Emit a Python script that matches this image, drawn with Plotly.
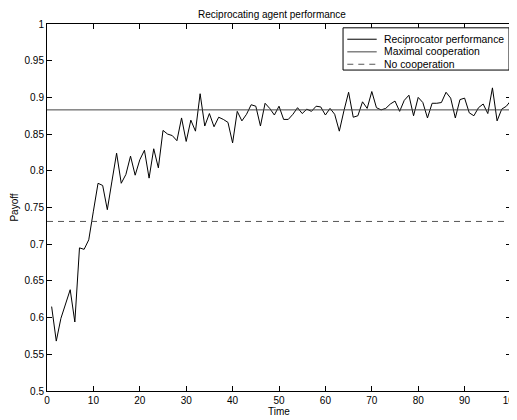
import plotly.graph_objects as go

time = list(range(1, 101))
reciprocator = [
    0.615, 0.568, 0.599, 0.618, 0.638, 0.594, 0.695, 0.693, 0.706, 0.745,
    0.783, 0.780, 0.747, 0.786, 0.824, 0.783, 0.795, 0.820, 0.794, 0.815,
    0.828, 0.790, 0.830, 0.804, 0.855, 0.850, 0.848, 0.841, 0.872, 0.840,
    0.869, 0.854, 0.905, 0.861, 0.878, 0.860, 0.873, 0.870, 0.866, 0.838,
    0.881, 0.868, 0.877, 0.890, 0.888, 0.861, 0.892, 0.885, 0.876, 0.888,
    0.870, 0.870, 0.877, 0.886, 0.878, 0.884, 0.881, 0.888, 0.887, 0.876,
    0.885, 0.877, 0.854, 0.882, 0.907, 0.873, 0.875, 0.894, 0.885, 0.908,
    0.886, 0.883, 0.885, 0.891, 0.895, 0.881, 0.896, 0.903, 0.875, 0.900,
    0.893, 0.872, 0.892, 0.892, 0.893, 0.907, 0.899, 0.872, 0.897, 0.899,
    0.879, 0.875, 0.886, 0.891, 0.878, 0.913, 0.868, 0.884, 0.888, 0.896,
]
maximal_cooperation = 0.883
no_cooperation = 0.731
hline_x = [0, 100]

series_names = ["Reciprocator performance", "Maximal cooperation", "No cooperation"]

x_ticks = list(range(0, 101, 10))
y_ticks = [0.5, 0.55, 0.6, 0.65, 0.7, 0.75, 0.8, 0.85, 0.9, 0.95, 1.0]
y_tick_labels = ["0.5", "0.55", "0.6", "0.65", "0.7", "0.75", "0.8", "0.85", "0.9", "0.95", "1"]

FONT = "Liberation Sans, Arial, Helvetica, sans-serif"

styles = [
    dict(color="black", width=1),
    dict(color="#444444", width=1),
    dict(color="#555555", width=1, dash="6px,5px"),
]

fig = go.Figure()
fig.add_trace(go.Scatter(x=time, y=reciprocator, mode="lines",
                         name=series_names[0], line=styles[0], showlegend=False))
fig.add_trace(go.Scatter(x=hline_x, y=[maximal_cooperation] * 2, mode="lines",
                         name=series_names[1], line=styles[1], showlegend=False))
fig.add_trace(go.Scatter(x=hline_x, y=[no_cooperation] * 2, mode="lines",
                         name=series_names[2], line=styles[2], showlegend=False))

axis_common = dict(
    showline=True, linecolor="black", linewidth=1, mirror="ticks",
    ticks="inside", ticklen=5, tickcolor="black", tickwidth=1,
    showgrid=False, zeroline=False, automargin=False,
    ticklabeloverflow="allow",
    tickfont=dict(family=FONT, size=10, color="black"),
)

# Legend box (MATLAB style), drawn in plot-area paper coordinates
shapes = [dict(type="rect", xref="paper", yref="paper",
               x0=0.638, x1=0.9957, y0=0.8745, y1=0.9896,
               line=dict(color="black", width=1), fillcolor="white", layer="above")]
annotations = []
row_y = [0.9585, 0.9241, 0.8903]
for name, st, ry in zip(series_names, styles, row_y):
    line = dict(color=st["color"], width=st["width"])
    if "dash" in st:
        line["dash"] = st["dash"]
    shapes.append(dict(type="line", xref="paper", yref="paper",
                       x0=0.6472, x1=0.7106, y0=ry, y1=ry, line=line, layer="above"))
    annotations.append(dict(text=name, xref="paper", yref="paper", x=0.7213, y=ry,
                            xanchor="left", yanchor="middle", showarrow=False,
                            font=dict(family=FONT, size=10.4, color="black")))

# The page body has an 8px margin, so the figure is sized to fill the rest of the window
fig.update_layout(
    width=509, height=412,
    margin=dict(l=39, r=6, t=16, b=29, pad=0),
    paper_bgcolor="white", plot_bgcolor="white",
    font=dict(family=FONT, size=10, color="black"),
    title=dict(text="Reciprocating agent performance", x=264 / 509, xanchor="center",
               y=1 - 6 / 412, yanchor="middle",
               font=dict(family=FONT, size=10, color="black")),
    xaxis=dict(range=[0, 100], tickvals=x_ticks,
               title=dict(text="Time", standoff=1,
                          font=dict(family=FONT, size=10, color="black")),
               **axis_common),
    yaxis=dict(range=[0.5, 1], tickvals=y_ticks, ticktext=y_tick_labels,
               title=dict(text="Payoff", standoff=4,
                          font=dict(family=FONT, size=10, color="black")),
               **axis_common),
    shapes=shapes,
    annotations=annotations,
    showlegend=False,
)

fig.write_html("out.html")
